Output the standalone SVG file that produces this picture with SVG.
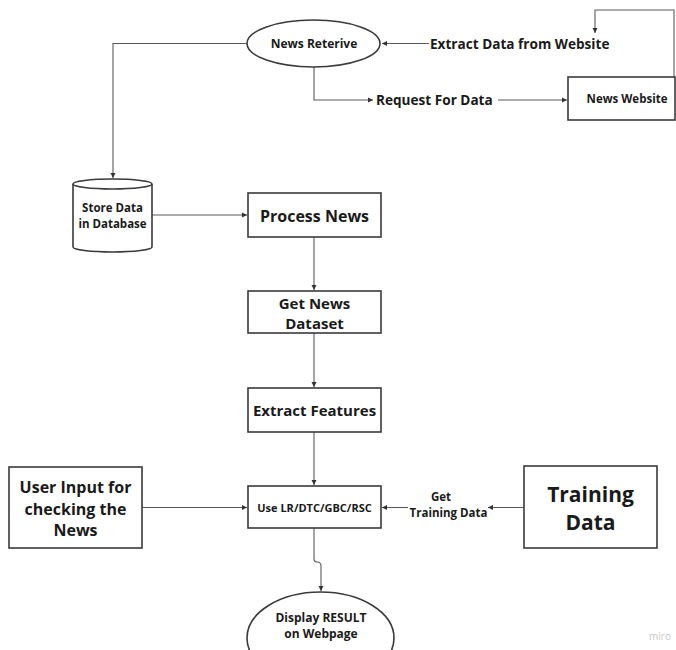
<svg xmlns="http://www.w3.org/2000/svg" width="676" height="650" viewBox="0 0 676 650">
<defs>
<marker id="ah" markerUnits="userSpaceOnUse" markerWidth="6" markerHeight="6" refX="5" refY="3" orient="auto">
<path d="M0,0.5 L5,3 L0,5.5 z" fill="#333"/>
</marker>
<style>
.n{fill:#fff;stroke:#3a3a3a;stroke-width:1.6}
.c{fill:none;stroke:#5a5a5a;stroke-width:1.1;marker-end:url(#ah)}
text{font-family:"Open Sans","Noto Sans","Liberation Sans",sans-serif;font-weight:bold;fill:#1a1a1a;text-anchor:middle}
</style>
</defs>
<rect width="676" height="650" fill="#fff"/>
<g id="connectors">
<path class="c" d="M248,43.5 H113 V178"/>
<path class="c" d="M429,43.5 H382"/>
<path class="c" d="M314,67 V100 H373"/>
<path class="c" d="M498,100 H567"/>
<path class="c" d="M674,77 V10 H595 V33"/>
<path class="c" d="M152,215 H247"/>
<path class="c" d="M314,237 V290"/>
<path class="c" d="M314,333 V387"/>
<path class="c" d="M314,432 V485"/>
<path class="c" d="M142,507.5 H247"/>
<path class="c" d="M524,507.5 H488"/>
<path class="c" d="M408,507.5 H382"/>
<path class="c" d="M314,528 V559 Q314,562 317,562 Q321,562 321,566 V591"/>
</g>
<g id="news-reterive">
<ellipse class="n" cx="313.5" cy="43.5" rx="66.5" ry="23.5"/>
<text x="314" y="48.2" font-size="12">News Reterive</text>
</g>
<g id="extract-data-label">
<text x="430" y="49" font-size="13.6" style="text-anchor:start">Extract Data from Website</text>
</g>
<g id="request-label">
<text x="376" y="105" font-size="13.6" style="text-anchor:start">Request For Data</text>
</g>
<g id="news-website">
<rect class="n" x="568" y="77" width="107" height="43"/>
<text x="627" y="103" font-size="11.5">News Website</text>
</g>
<g id="store-data">
<path class="n" d="M73,184 V247 A39.5,5 0 0 0 152,247 V184"/>
<ellipse class="n" cx="112.5" cy="184" rx="39.5" ry="5"/>
<text x="112.5" y="211.5" font-size="11.5">Store Data</text>
<text x="112.5" y="227.5" font-size="11.5">in Database</text>
</g>
<g id="process-news">
<rect class="n" x="248" y="193" width="133" height="44"/>
<text x="314.5" y="221.5" font-size="16">Process News</text>
</g>
<g id="get-news-dataset">
<rect class="n" x="248" y="291" width="133" height="42"/>
<text x="314.5" y="309" font-size="15">Get News</text>
<text x="314.5" y="329" font-size="15">Dataset</text>
</g>
<g id="extract-features">
<rect class="n" x="248" y="388" width="133" height="44"/>
<text x="314.5" y="416" font-size="15">Extract Features</text>
</g>
<g id="user-input">
<rect class="n" x="9" y="467" width="133" height="81"/>
<text x="75.5" y="492.5" font-size="16">User Input for</text>
<text x="75.5" y="514.5" font-size="16">checking the</text>
<text x="75.5" y="535.5" font-size="16">News</text>
</g>
<g id="use-lr">
<rect class="n" x="248" y="486" width="133" height="42"/>
<text x="314.5" y="511.5" font-size="11">Use LR/DTC/GBC/RSC</text>
</g>
<g id="get-training-label">
<text x="441" y="501" font-size="11.5">Get</text>
<text x="448.5" y="517" font-size="11.5">Training Data</text>
</g>
<g id="training-data">
<rect class="n" x="524" y="466" width="133" height="82"/>
<text x="590.5" y="502" font-size="21">Training</text>
<text x="590.5" y="530" font-size="21">Data</text>
</g>
<g id="display-result">
<ellipse class="n" cx="320.5" cy="638" rx="73.5" ry="46"/>
<text x="321" y="622" font-size="12">Display RESULT</text>
<text x="321" y="638" font-size="12">on Webpage</text>
</g>
<text x="660" y="640" font-size="10" style="fill:#c8c8c8;font-weight:normal">miro</text>
</svg>
